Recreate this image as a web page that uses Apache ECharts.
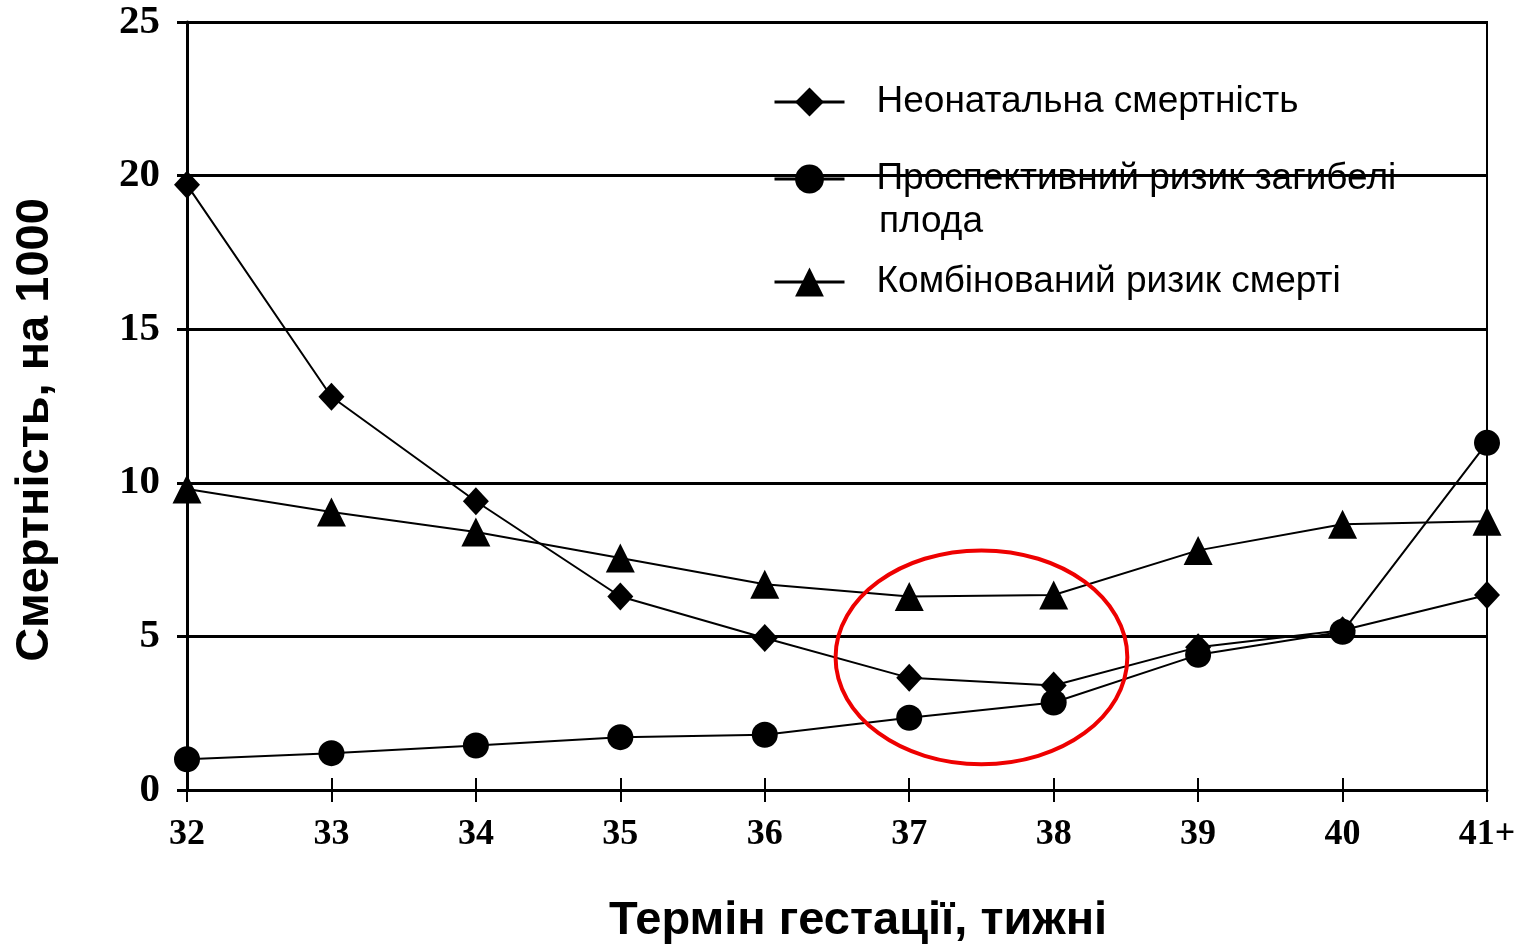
<!DOCTYPE html>
<html>
<head>
<meta charset="utf-8">
<script src="https://cdn.jsdelivr.net/npm/echarts@6/dist/echarts.min.js"></script>
<style>
html,body{margin:0;padding:0;background:#fff;}
#c{width:1519px;height:948px;}
</style>
</head>
<body>
<div id="c"></div>
<script>
var categories = ['32','33','34','35','36','37','38','39','40','41+'];
var neonatal = [19.7, 12.8, 9.4, 6.3, 4.95, 3.65, 3.4, 4.65, 5.2, 6.35];
var fetalRisk = [1.0, 1.2, 1.45, 1.72, 1.8, 2.35, 2.85, 4.4, 5.15, 11.3];
var combined = [9.8, 9.05, 8.4, 7.55, 6.7, 6.3, 6.35, 7.8, 8.65, 8.75];
var seriesNames = ['Неонатальна смертність', 'Проспективний ризик загибелі', 'Комбінований ризик смерті'];
var yTicks = [0, 5, 10, 15, 20, 25];

var chart = echarts.init(document.getElementById('c'));
var serif = '"Liberation Serif", "Times New Roman", serif';
var sans = '"Liberation Sans", Arial, sans-serif';

function mkLegend(name, top) {
  return {
    data: [name],
    orient: 'vertical',
    left: 768,
    top: top,
    itemWidth: 70,
    itemHeight: 36,
    selectedMode: false,
    lineStyle: {width: 3},
    textStyle: {fontFamily: sans, fontSize: 37, color: '#000', padding: [0, 0, 0, 27], lineHeight: 40}
  };
}

var option = {
  animation: false,
  backgroundColor: '#fff',
  grid: {left: 187, right: 32, top: 22, bottom: 158, outerBoundsMode: 'none', containLabel: false,
    show: true, borderColor: '#000', borderWidth: 2, backgroundColor: 'transparent'},
  legend: [mkLegend(seriesNames[0], 77), mkLegend(seriesNames[1], 154), mkLegend(seriesNames[2], 257)],
  xAxis: [{
    type: 'category',
    data: categories,
    boundaryGap: false,
    name: 'Термін гестації, тижні',
    nameLocation: 'middle',
    nameGap: 108,
    nameTextStyle: {fontFamily: sans, fontSize: 47, fontWeight: 'bold', color: '#000', padding: [0, 0, 0, 42]},
    axisLine: {lineStyle: {color: '#000', width: 3}},
    axisTick: {show: true, length: 12, alignWithLabel: true, lineStyle: {color: '#000', width: 2}},
    axisLabel: {fontFamily: serif, fontWeight: 'bold', fontSize: 36, color: '#000', margin: 27},
    splitLine: {show: false}
  }, {
    type: 'category',
    data: categories,
    boundaryGap: false,
    position: 'bottom',
    axisLine: {show: false},
    axisTick: {show: true, inside: true, length: 12, lineStyle: {color: '#000', width: 2}},
    axisLabel: {show: false},
    splitLine: {show: false}
  }],
  yAxis: {
    type: 'value',
    min: 0,
    max: 25,
    interval: 5,
    name: 'Смертність, на 1000',
    nameLocation: 'middle',
    nameGap: 128,
    nameTextStyle: {fontFamily: sans, fontSize: 47, fontWeight: 'bold', color: '#000', padding: [0, 48, 0, 0]},
    axisLine: {show: true, lineStyle: {color: '#000', width: 3}},
    axisTick: {show: true, length: 10, lineStyle: {color: '#000', width: 3}},
    axisLabel: {fontFamily: serif, fontWeight: 'bold', fontSize: 41, color: '#000', margin: 27,
      formatter: function (v) { return yTicks.indexOf(v) >= 0 ? String(v) : ''; }},
    splitLine: {show: true, lineStyle: {color: '#000', width: 3}}
  },
  series: [{
    name: seriesNames[0], type: 'line', data: neonatal,
    symbol: 'diamond', symbolSize: [26, 28],
    lineStyle: {color: '#000', width: 2}, itemStyle: {color: '#000'}
  }, {
    name: seriesNames[1], type: 'line', data: fetalRisk,
    symbol: 'circle', symbolSize: 26,
    lineStyle: {color: '#000', width: 2}, itemStyle: {color: '#000'}
  }, {
    name: seriesNames[2], type: 'line', data: combined,
    symbol: 'triangle', symbolSize: 29,
    lineStyle: {color: '#000', width: 2}, itemStyle: {color: '#000'}
  }]
};
chart.setOption(option);

// annotation ellipse around weeks 37–38 and legend second line
var p37 = chart.convertToPixel({xAxisIndex: 0, yAxisIndex: 0}, ['37', 4.32]);
var p38 = chart.convertToPixel({xAxisIndex: 0, yAxisIndex: 0}, ['38', 4.32]);
var unitY = chart.convertToPixel({yAxisIndex: 0}, 0) - chart.convertToPixel({yAxisIndex: 0}, 1);
var cx = (p37[0] + p38[0]) / 2;
var step = p38[0] - p37[0];
chart.setOption({
  graphic: [{
    type: 'ellipse',
    shape: {cx: cx, cy: p37[1], rx: step * 1.01, ry: unitY * 3.48},
    style: {fill: null, stroke: '#ee0000', lineWidth: 4},
    z: 100
  }, {
    type: 'text',
    left: 879,
    top: 203,
    style: {text: 'плода', fontFamily: sans, fontSize: 37, fill: '#000'}
  }]
});
</script>
</body>
</html>
